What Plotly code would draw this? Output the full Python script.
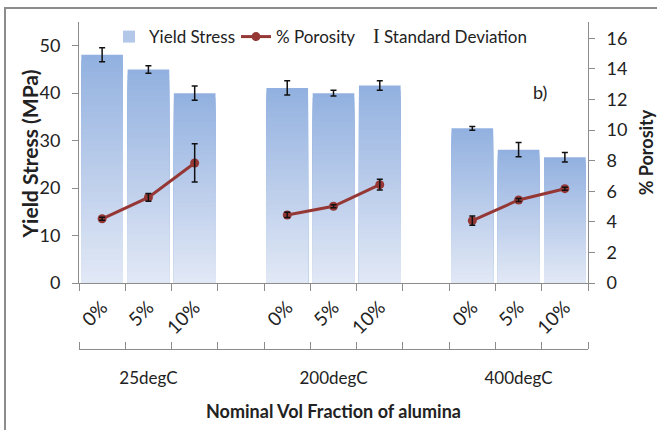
import plotly.graph_objects as go
import numpy as np

# ---- data ----
groups = ["25degC", "200degC", "400degC"]
fractions = ["0%", "5%", "10%"]
yield_stress = [48.1, 45.0, 40.0, 41.1, 40.0, 41.6, 32.6, 28.1, 26.5]
yield_sd = [1.5, 0.8, 1.5, 1.5, 0.6, 1.0, 0.4, 1.5, 1.0]
porosity = [4.2, 5.6, 7.85, 4.45, 5.02, 6.43, 4.08, 5.43, 6.17]
porosity_sd = [0.1, 0.25, 1.25, 0.17, 0.1, 0.35, 0.3, 0.1, 0.1]

# ---- positions (3 bars per group, one empty slot between groups) ----
xpos = [g * 4 + i for g in range(len(groups)) for i in range(len(fractions))]
xlabels = fractions * len(groups)
group_centers = [g * 4 + 1 for g in range(len(groups))]

FONT = "Lato"
TXT = "#222222"
AX = "#8c8c8c"

fig = go.Figure()

# gradient bars: stacked overlay layers
N = 40
top = np.array([146, 177, 224])
bot = np.array([226, 233, 246])
legend_k = int(N * 0.6)
for k in range(N, 0, -1):
    f = (k - 0.5) / N
    c = bot + (top - bot) * f
    fig.add_trace(go.Bar(
        x=xpos, y=[v * k / N for v in yield_stress], width=0.9,
        marker=dict(color=f"rgb({int(c[0])},{int(c[1])},{int(c[2])})", line_width=0),
        name="Yield Stress", legendgroup="ys", showlegend=(k == legend_k),
        legend="legend", hoverinfo="skip"))

# yield stress error bars
fig.add_trace(go.Scatter(
    x=xpos, y=yield_stress, mode="markers",
    marker=dict(size=1, color="rgba(0,0,0,0)"),
    error_y=dict(type="data", array=yield_sd, color="#111111", thickness=1.5, width=3),
    showlegend=False, hoverinfo="skip"))

# porosity line (separate per group)
px, py, pe = [], [], []
for g in range(len(groups)):
    for i in range(len(fractions)):
        j = g * len(fractions) + i
        px.append(xpos[j]); py.append(porosity[j]); pe.append(porosity_sd[j])
    px.append(None); py.append(None); pe.append(None)

fig.add_trace(go.Scatter(
    x=px, y=py, yaxis="y2", mode="lines+markers", name="% Porosity",
    line=dict(color="#953735", width=3),
    marker=dict(color="#953735", size=9, symbol="circle"),
    connectgaps=False, legend="legend2"))
fig.add_trace(go.Scatter(
    x=px, y=py, yaxis="y2", mode="markers",
    marker=dict(size=1, color="rgba(0,0,0,0)"),
    error_y=dict(type="data", array=pe, color="#111111", thickness=1.5, width=3),
    showlegend=False, hoverinfo="skip"))

# legend entry for standard deviation
fig.add_trace(go.Scatter(
    x=[None], y=[None], mode="markers",
    name="<span style=\"font-family:'Liberation Serif';font-size:20px\">I</span> Standard Deviation",
    marker=dict(size=1, color="rgba(0,0,0,0)"), legend="legend3"))

# dummy trace for the group axis
fig.add_trace(go.Scatter(x=[None], y=[None], xaxis="x2", yaxis="y",
                         showlegend=False, hoverinfo="skip"))

leg_common = dict(orientation="h", yanchor="middle", xanchor="left", y=0.954,
                  bgcolor="rgba(0,0,0,0)", font=dict(size=17, family=FONT, color=TXT),
                  itemwidth=30)

fig.update_layout(
    width=657, height=430,
    margin=dict(l=79, r=69, t=22, b=81, autoexpand=False),
    paper_bgcolor="white", plot_bgcolor="white",
    barmode="overlay",
    font=dict(family=FONT, color=TXT, size=16),
    showlegend=True,
    legend=dict(x=0.0589, **leg_common),
    legend2=dict(x=0.3084, **leg_common),
    legend3=dict(x=0.499, **leg_common),
    xaxis=dict(range=[-0.5, 10.5], tickmode="array", tickvals=xpos, ticktext=xlabels,
               tickangle=-45, ticks="", showgrid=False, zeroline=False, automargin=False,
               showline=True, linecolor=AX, linewidth=1, anchor="y", ticklabelstandoff=5,
               tickfont=dict(size=19, family=FONT, color=TXT),
               minor=dict(tickmode="linear", tick0=-0.5, dtick=1, ticks="outside",
                          ticklen=7, tickcolor=AX, showgrid=False)),
    xaxis2=dict(range=[-0.5, 10.5], overlaying="x", anchor="free", position=0,
                side="bottom", tickmode="array", tickvals=group_centers, ticktext=groups,
                ticks="", showgrid=False, zeroline=False, showline=True, automargin=False,
                linecolor=AX, linewidth=1, ticklabelstandoff=14,
                tickfont=dict(size=17, family=FONT, color=TXT),
                minor=dict(tickmode="linear", tick0=-0.5, dtick=1, ticks="inside",
                           ticklen=7, tickcolor=AX, showgrid=False),
                title=dict(text="<b>Nominal Vol Fraction of alumina</b>",
                           font=dict(size=18, family=FONT, color=TXT), standoff=17)),
    yaxis=dict(domain=[0.2018, 1], range=[0, 55], dtick=10, ticks="outside", ticklen=6,
               tickcolor=AX, showline=True, linecolor=AX, linewidth=1, showgrid=False,
               zeroline=False, ticklabelstandoff=8, automargin=False,
               tickfont=dict(size=18, family=FONT, color=TXT)),
    yaxis2=dict(overlaying="y", side="right", anchor="x", range=[0, 17.07], dtick=2,
                ticks="outside", ticklen=6, tickcolor=AX, showline=True, linecolor=AX,
                linewidth=1, showgrid=False, zeroline=False, ticklabelstandoff=8,
                automargin=False,
                tickfont=dict(size=18, family=FONT, color=TXT),
                title=dict(text="<b>% Porosity</b>",
                           font=dict(size=18, family=FONT, color=TXT), standoff=14)),
    annotations=[
        dict(text="b)", xref="paper", yref="paper", x=0.906, y=0.786,
             xanchor="center", yanchor="middle",
             showarrow=False, font=dict(size=18, family=FONT, color=TXT)),
        dict(text="<b>Yield Stress (MPa)</b>", xref="paper", yref="paper",
             x=(28.5 - 79) / 509, y=(349 - 154) / 327, textangle=-90,
             xanchor="center", yanchor="middle", showarrow=False,
             font=dict(size=21, family=FONT, color=TXT)),
    ],
    shapes=[dict(type="rect", xref="paper", yref="paper",
                 x0=(5 - 79) / 509, x1=1.3, y0=-0.5, y1=(349 - 8) / 327,
                 line=dict(color="#8c8c8c", width=2), layer="below")],
)

fig.write_html("out.html")
